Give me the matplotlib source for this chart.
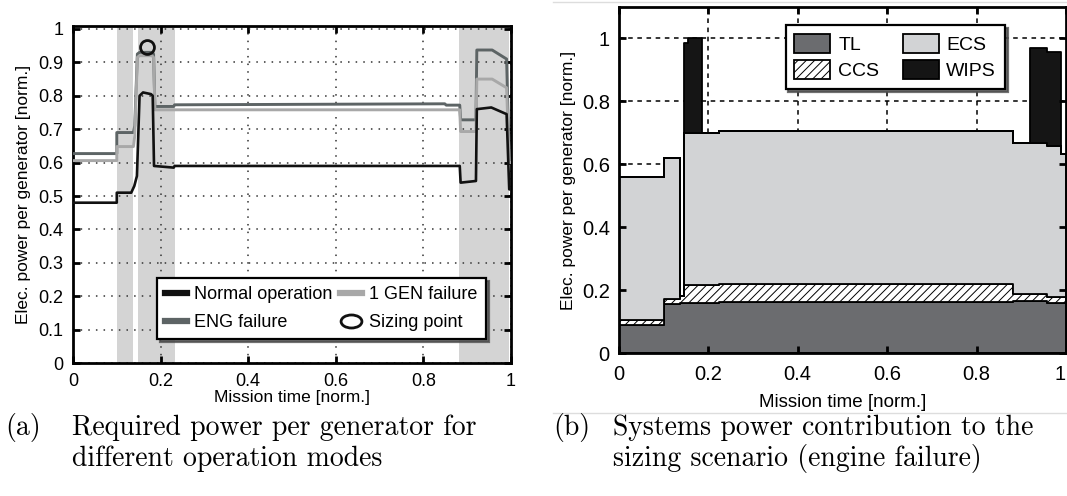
import matplotlib
matplotlib.use("Agg")
import matplotlib.pyplot as plt
import numpy as np
from matplotlib.lines import Line2D
from matplotlib.path import Path
from matplotlib.transforms import Affine2D

plt.rcParams["font.family"] = ["Liberation Sans", "DejaVu Sans"]
plt.rcParams["hatch.linewidth"] = 0.7

# ============================================================
# DATA  (a) required power per generator
# ============================================================
t_normal = [0.0, 0.100, 0.100, 0.133, 0.140, 0.146, 0.152, 0.160, 0.178, 0.182, 0.185, 0.230, 0.232,
            0.883, 0.885, 0.920, 0.922, 0.955, 0.990, 0.996, 1.0]
p_normal = [0.480, 0.480, 0.510, 0.510, 0.530, 0.560, 0.800, 0.810, 0.805, 0.800, 0.590, 0.585, 0.590,
            0.590, 0.540, 0.545, 0.760, 0.765, 0.745, 0.520, 0.520]

t_eng = [0.0, 0.100, 0.100, 0.138, 0.141, 0.147, 0.152, 0.180, 0.184, 0.187, 0.230, 0.232,
         0.849, 0.852, 0.883, 0.885, 0.920, 0.922, 0.957, 0.990, 0.996, 1.0]
p_eng = [0.627, 0.627, 0.690, 0.690, 0.710, 0.925, 0.930, 0.930, 0.925, 0.768, 0.768, 0.773,
         0.776, 0.772, 0.772, 0.728, 0.728, 0.937, 0.937, 0.910, 0.600, 0.600]

t_gen = [0.0, 0.100, 0.100, 0.138, 0.141, 0.147, 0.152, 0.180, 0.184, 0.187,
         0.883, 0.885, 0.920, 0.922, 0.957, 0.990, 0.996, 1.0]
p_gen = [0.606, 0.606, 0.648, 0.648, 0.680, 0.915, 0.920, 0.920, 0.915, 0.758,
         0.758, 0.693, 0.693, 0.850, 0.850, 0.824, 0.600, 0.600]

sizing_t = [0.170]
sizing_p = [0.945]

phase_start = [0.100, 0.148, 0.881]
phase_end = [0.138, 0.232, 0.995]

# ============================================================
# DATA  (b) systems contribution (segment start times, last = end)
# ============================================================
t_seg = [0.0, 0.100, 0.136, 0.146, 0.155, 0.186, 0.225, 0.882, 0.919, 0.957, 0.989, 1.0]
tl = [0.090, 0.155, 0.160, 0.160, 0.160, 0.160, 0.163, 0.165, 0.165, 0.158, 0.158, 0.158]
ccs = [0.015, 0.017, 0.020, 0.055, 0.055, 0.055, 0.057, 0.022, 0.022, 0.020, 0.020, 0.020]
ecs = [0.455, 0.448, 0.000, 0.485, 0.485, 0.485, 0.485, 0.480, 0.480, 0.480, 0.455, 0.455]
wips = [0.000, 0.000, 0.000, 0.285, 0.300, 0.000, 0.000, 0.000, 0.302, 0.300, 0.000, 0.000]

layer_names = ["TL", "CCS", "ECS", "WIPS"]
layer_colors = ["#6b6c6f", "white", "#d2d3d5", "#151515"]
layer_hatch = [None, "////", None, None]


fig = plt.figure(figsize=(10.67, 4.96), dpi=100)

# ------------------------------------------------------------
# left panel
# ------------------------------------------------------------
ax1 = fig.add_axes([0.0684, 0.268, 0.4105, 0.679])

for a, b in zip(phase_start, phase_end):
    ax1.axvspan(a, b, color="#d4d4d4", lw=0, zorder=0.8)

ax1.plot(t_normal, p_normal, color="#111111", lw=1.9, label="Normal operation", zorder=3)
ax1.plot(t_eng, p_eng, color="#5d6465", lw=2.1, label="ENG failure", zorder=2.8)
ax1.plot(t_gen, p_gen, color="#a8a8a8", lw=2.1, label="1 GEN failure", zorder=2.9)
ax1.plot(sizing_t, sizing_p, ls="none", marker="o", ms=10, mfc="none", mec="#111111", mew=2, zorder=4)

ax1.set_xlim(0, 1)
ax1.set_ylim(0, 1.008)
ax1.set_xticks([0, 0.2, 0.4, 0.6, 0.8, 1])
ax1.set_xticklabels(["0", "0.2", "0.4", "0.6", "0.8", "1"])
ax1.set_yticks(np.arange(0, 1.01, 0.1))
ax1.set_yticklabels(["0", "0.1", "0.2", "0.3", "0.4", "0.5", "0.6", "0.7", "0.8", "0.9", "1"])
ax1.tick_params(direction="in", top=True, right=True, length=5, width=2, labelsize=13)
ax1.tick_params(axis="x", pad=7.5)
ax1.tick_params(axis="y", pad=7)
ax1.grid(True, ls=(0, (1, 4)), color="#333333", lw=1.1)
for s in ax1.spines.values():
    s.set_linewidth(2)
ax1.set_xlabel("Mission time [norm.]", fontsize=12.5, labelpad=0)
ax1.set_ylabel("Elec. power per generator [norm.]", fontsize=12.5, labelpad=5)

ell = Path.unit_circle().transformed(Affine2D().scale(1.6, 1.0))
h_left = [
    Line2D([], [], color="#111111", lw=4.5),
    Line2D([], [], color="#5d6465", lw=4.5),
    Line2D([], [], color="#a8a8a8", lw=4.5),
    Line2D([], [], ls="none", marker=ell, ms=15, mfc="none", mec="#111111", mew=2),
]
l_left = ["Normal operation", "ENG failure", "1 GEN failure", "Sizing point"]
leg1 = ax1.legend(h_left, l_left, ncol=2, loc="lower right", bbox_to_anchor=(0.955, 0.055),
                  fontsize=13, frameon=True, fancybox=False, framealpha=1, edgecolor="k",
                  shadow={"color": "0.3", "alpha": 0.8}, handlelength=1.2, handletextpad=0.4,
                  columnspacing=0.45, labelspacing=0.6, borderpad=0.45, borderaxespad=0.3)
leg1.get_frame().set_linewidth(1.6)
leg1.set_zorder(5)

# ------------------------------------------------------------
# right panel
# ------------------------------------------------------------
ax2 = fig.add_axes([0.580, 0.288, 0.419, 0.698])

xt = [0, 0.2, 0.4, 0.6, 0.8, 1]
yt = [0, 0.2, 0.4, 0.6, 0.8, 1.0]
for x in xt[1:-1]:
    ax2.axvline(x, ls=(0, (3, 3)), color="k", lw=1.1, zorder=0.5)
for y in yt[1:]:
    ax2.axhline(y, ls=(0, (3, 3)), color="k", lw=1.1, zorder=0.5)

base = np.zeros(len(t_seg))
for vals, name, fc, hatch in zip([tl, ccs, ecs, wips], layer_names, layer_colors, layer_hatch):
    top = base + np.array(vals)
    ax2.fill_between(t_seg, base, top, step="post", facecolor=fc, edgecolor="k",
                     hatch=hatch, lw=1.3, label=name, zorder=1)
    base = top

ax2.set_xlim(0, 1)
ax2.set_ylim(0, 1.1)
ax2.set_xticks(xt)
ax2.set_xticklabels(["0", "0.2", "0.4", "0.6", "0.8", "1"])
ax2.get_xticklabels()[-1].set_horizontalalignment("right")
ax2.set_yticks(yt)
ax2.set_yticklabels(["0", "0.2", "0.4", "0.6", "0.8", "1"])
ax2.tick_params(direction="in", top=True, right=True, length=5, width=2, labelsize=14.5)
ax2.tick_params(axis="x", pad=8.5)
ax2.tick_params(axis="y", pad=6.5)
for s in ax2.spines.values():
    s.set_linewidth(2)
    s.set_zorder(3)
ax2.set_xlabel("Mission time [norm.]", fontsize=13.5, labelpad=7)
ax2.set_ylabel("Elec. power per generator [norm.]", fontsize=12.5, labelpad=4)

leg2 = ax2.legend(ncol=2, loc="upper right", bbox_to_anchor=(0.885, 0.975), fontsize=14,
                  frameon=True, fancybox=False, framealpha=1, edgecolor="k",
                  shadow={"color": "0.3", "alpha": 0.8}, handlelength=1.85, handleheight=1.15,
                  handletextpad=0.4, columnspacing=1.2, labelspacing=0.3, borderpad=0.45)
leg2.get_frame().set_linewidth(1.6)
leg2.set_zorder(5)

# thin separator lines of the right sub-figure
fig.add_artist(Line2D([553 / 1067, 1.0], [1 - 2 / 496, 1 - 2 / 496], color="#dddddd", lw=1))
fig.add_artist(Line2D([553 / 1067, 1.0], [1 - 413 / 496, 1 - 413 / 496], color="#dddddd", lw=1))

# ------------------------------------------------------------
# captions
# ------------------------------------------------------------
cap = dict(family="cmr10", fontsize=20, va="baseline", ha="left")
fig.text(5 / 1067, 61 / 496, "(a)", **cap)
fig.text(72 / 1067, 61 / 496, "Required power per generator for", **cap)
fig.text(72 / 1067, 30 / 496, "different operation modes", **cap)
fig.text(553 / 1067, 61 / 496, "(b)", **cap)
fig.text(613 / 1067, 61 / 496, "Systems power contribution to the", **cap)
fig.text(613 / 1067, 30 / 496, "sizing scenario (engine failure)", **cap)

fig.savefig("out.png", dpi=100)
